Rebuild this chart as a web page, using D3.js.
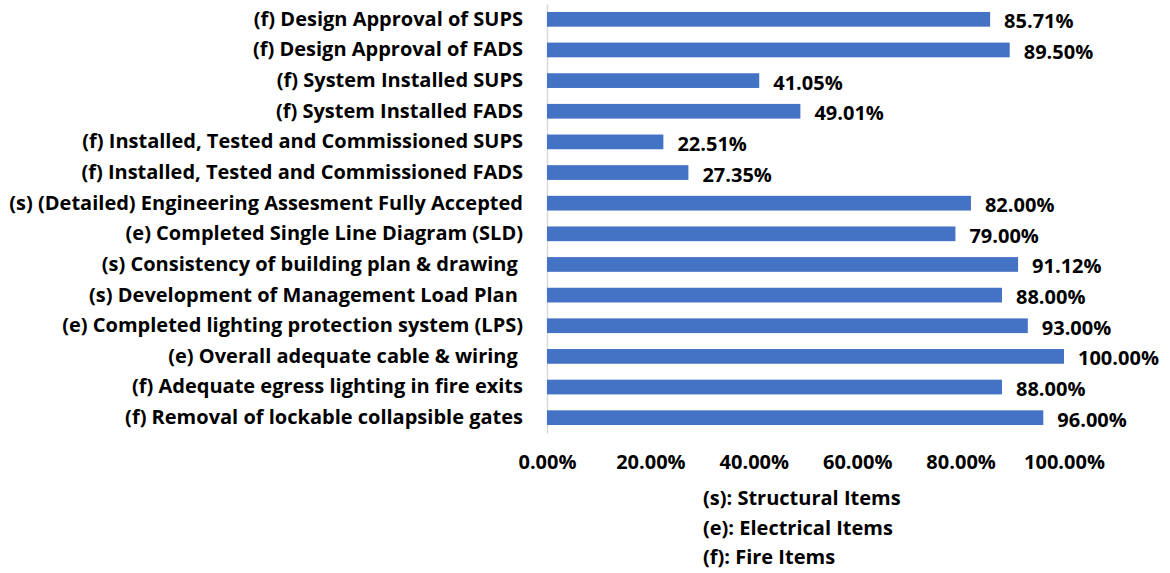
<!DOCTYPE html>
<html>
<head>
<meta charset="utf-8">
<script src="https://cdn.jsdelivr.net/npm/d3@7"></script>
<style>
  body { margin: 0; background: #fff; }
  svg { font-family: "Open Sans", sans-serif; font-weight: bold; }
  text { white-space: pre; }
</style>
</head>
<body>
<svg width="1170" height="573"></svg>
<script>
const categories = [
  "(f) Design Approval of SUPS",
  "(f) Design Approval of FADS",
  "(f) System Installed SUPS",
  "(f) System Installed FADS",
  "(f) Installed, Tested and Commissioned SUPS",
  "(f) Installed, Tested and Commissioned FADS",
  "(s) (Detailed) Engineering Assesment Fully Accepted",
  "(e) Completed Single Line Diagram (SLD)",
  "(s) Consistency of building plan & drawing ",
  "(s) Development of Management Load Plan ",
  "(e) Completed lighting protection system (LPS)",
  "(e) Overall adequate cable & wiring ",
  "(f) Adequate egress lighting in fire exits",
  "(f) Removal of lockable collapsible gates"
];
const values = [85.71, 89.50, 41.05, 49.01, 22.51, 27.35, 82.00, 79.00, 91.12, 88.00, 93.00, 100.00, 88.00, 96.00];
const xTicks = [0, 20, 40, 60, 80, 100];
const legendLines = ["(s): Structural Items", "(e): Electrical Items", "(f): Fire Items"];

const barColor = '#4472c4';
const fontSize = 20;
const x0 = 547, x1 = 1064;
const y0 = 4, y1 = 433;

var svg = d3.select("svg");

var x = d3.scaleLinear().domain([0, 100]).range([x0, x1]);
var y = d3.scaleBand().domain(categories).range([y0, y1]).paddingInner(0.52).paddingOuter(0.26);

function styleText(sel){
  sel.attr("font-size", fontSize).attr("fill", "#000");
}

// category axis
var yAxis = d3.axisLeft(y).tickSize(0).tickPadding(24);
svg.append("g")
   .attr("class", "axis y-axis")
   .attr("transform", "translate(" + x0 + ",0)")
   .call(function(g){
     g.call(yAxis);
     g.attr("font-family", null).attr("font-size", null);
     g.select(".domain").attr("stroke", "#d9d9d9").attr("stroke-width", 1.5);
     g.selectAll(".tick text").call(styleText);
   });

// value axis (labels only)
var xAxis = d3.axisBottom(x).tickValues(xTicks).tickSize(0).tickPadding(0)
              .tickFormat(function(d){ return d.toFixed(2) + "%"; });
svg.append("g")
   .attr("class", "axis x-axis")
   .attr("transform", "translate(0,455)")
   .call(function(g){
     g.call(xAxis);
     g.attr("font-family", null).attr("font-size", null);
     g.select(".domain").remove();
     g.selectAll(".tick text").call(styleText);
   });

// bars
var bar = svg.append("g").selectAll("g")
   .data(values)
   .enter().append("g").attr("class", "bar-task");

bar.append("rect")
   .attr("x", x(0))
   .attr("y", function(d, i){ return y(categories[i]); })
   .attr("width", function(d){ return x(d) - x(0); })
   .attr("height", y.bandwidth())
   .attr("fill", barColor);

bar.append("text")
   .attr("x", function(d){ return x(d) + 14; })
   .attr("y", function(d, i){ return y(categories[i]) + y.bandwidth()/2 + 9; })
   .call(styleText)
   .text(function(d){ return d.toFixed(2) + "%"; });

// legend text
svg.append("g").selectAll("text")
   .data(legendLines)
   .enter().append("text")
   .attr("x", 703)
   .attr("y", function(d, i){ return 505 + i*29.5; })
   .call(styleText)
   .text(function(d){ return d; });
</script>
</body>
</html>
